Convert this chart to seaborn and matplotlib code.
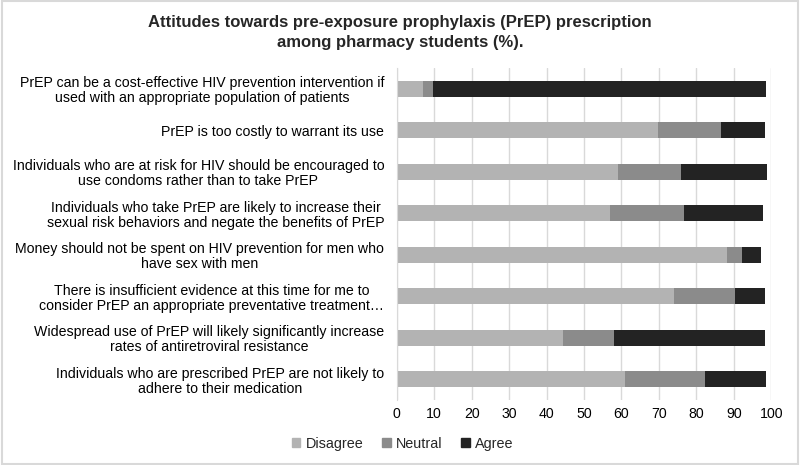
import pandas as pd
import matplotlib.pyplot as plt
import matplotlib.patches as mpatches
import seaborn as sns

statements = [
    "PrEP can be a cost-effective HIV prevention intervention if\nused with an appropriate population of patients",
    "PrEP is too costly to warrant its use",
    "Individuals who are at risk for HIV should be encouraged to\nuse condoms rather than to take PrEP",
    "Individuals who take PrEP are likely to increase their\nsexual risk behaviors and negate the benefits of PrEP",
    "Money should not be spent on HIV prevention for men who\nhave sex with men",
    "There is insufficient evidence at this time for me to\nconsider PrEP an appropriate preventative treatment…",
    "Widespread use of PrEP will likely significantly increase\nrates of antiretroviral resistance",
    "Individuals who are prescribed PrEP are not likely to\nadhere to their medication",
]
disagree = [6.9, 69.8, 59.2, 56.9, 88.3, 74.1, 44.3, 61.0]
neutral = [2.7, 16.7, 16.6, 19.7, 4.0, 16.1, 13.8, 21.3]
agree = [88.9, 11.8, 23.0, 21.3, 5.1, 8.2, 40.3, 16.4]

colors = {"Disagree": "#b3b3b3", "Neutral": "#8b8b8b", "Agree": "#232323"}

df = pd.DataFrame({"statement": statements, "Disagree": disagree,
                   "Neutral": neutral, "Agree": agree})
df["dn"] = df["Disagree"] + df["Neutral"]
df["total"] = df["dn"] + df["Agree"]

sns.set_style("white")
plt.rcParams["font.family"] = ["Liberation Sans", "DejaVu Sans"]

fig = plt.figure(figsize=(8, 4.65), dpi=100)
ax = fig.add_axes([0.496, 0.14, 0.468, 0.714])

# stacked bars drawn as layered cumulative sums
for col, name in [("total", "Agree"), ("dn", "Neutral"), ("Disagree", "Disagree")]:
    sns.barplot(data=df, x=col, y="statement", orient="h", color=colors[name],
                width=0.38, ax=ax, saturation=1, edgecolor="none")

ax.set_xlim(0, 100)
ax.set_xticks(range(0, 101, 10))
ax.xaxis.grid(True, color="#d9d9d9", linewidth=1)
ax.set_axisbelow(True)
ax.set_xlabel("")
ax.set_ylabel("")
for s in ["top", "right", "bottom"]:
    ax.spines[s].set_visible(False)
ax.spines["left"].set_color("#d9d9d9")
ax.tick_params(axis="x", length=0, labelsize=10.2, colors="#000000", pad=5)
ax.tick_params(axis="y", length=0, labelsize=10.2, colors="#000000", pad=9)
for lbl in ax.get_yticklabels():
    lbl.set_horizontalalignment("right")
    lbl.set_multialignment("center")
    lbl.set_linespacing(1.12)

handles = [mpatches.Patch(color=colors[n], label=n) for n in ["Disagree", "Neutral", "Agree"]]
fig.legend(handles=handles, loc="center", bbox_to_anchor=(0.503, 0.046), ncol=3,
           frameon=False, fontsize=10.4, handlelength=0.6, handleheight=0.6,
           handletextpad=0.35, columnspacing=1.3)

fig.suptitle("Attitudes towards pre-exposure prophylaxis (PrEP) prescription\namong pharmacy students (%).",
             x=0.5, y=0.968, fontsize=12, fontweight="bold", linespacing=1.45)

fig.patches.append(mpatches.Rectangle((0.002, 0.003), 0.996, 0.994, transform=fig.transFigure,
                                      fill=False, edgecolor="#d9d9d9", linewidth=1.5))

fig.savefig("out.png", dpi=100)
